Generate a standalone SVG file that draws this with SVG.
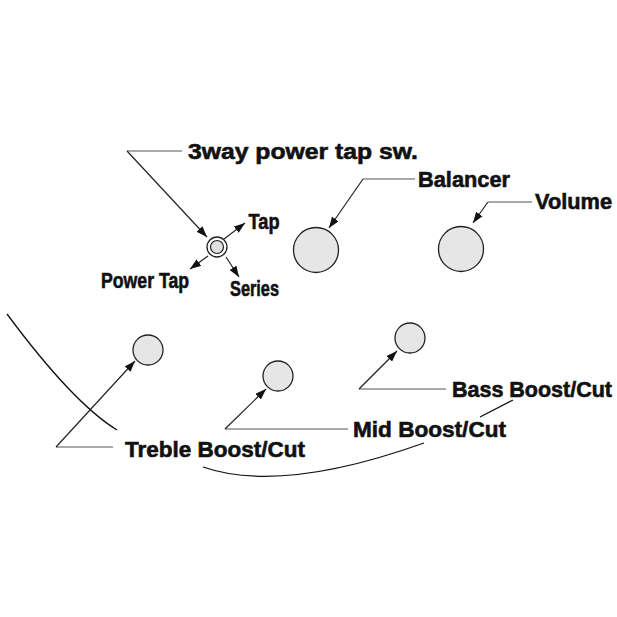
<svg xmlns="http://www.w3.org/2000/svg" width="617" height="617" viewBox="0 0 617 617">
<defs>
<marker id="ah" markerUnits="userSpaceOnUse" markerWidth="11" markerHeight="8" refX="11" refY="4" orient="auto">
<path d="M0,0 L11,4 L0,8 z" fill="#111"/>
</marker>
<style>
.knob{fill:#e6e6e6;stroke:#222;stroke-width:1.3}
.lbl{font-family:"Liberation Sans",Arial,Helvetica,sans-serif;font-weight:bold;font-size:22.5px;fill:#111;stroke:#111;stroke-width:0.6}
.lead{fill:none;stroke:#222;stroke-width:1.2}
.hz{fill:none;stroke:#555;stroke-width:1.2}
.body{fill:none;stroke:#111;stroke-width:1.3}
</style>
</defs>
<rect width="617" height="617" fill="#fff"/>

<g id="body-outline">
<path class="body" d="M7,314 Q73,403 117,430"/>
<path class="body" d="M203,467 Q281,494 424,443"/>
<path class="body" d="M480,417 L513,400"/>
</g>

<g id="connectors">
<path class="hz" d="M182,151 L127,151"/>
<path class="lead" d="M127,151 L207,237" marker-end="url(#ah)"/>
<path class="lead" d="M224,239 L245,223" marker-end="url(#ah)"/>
<path class="lead" d="M208,256 L190,269" marker-end="url(#ah)"/>
<path class="lead" d="M226,257 L239,277" marker-end="url(#ah)"/>
<path class="hz" d="M415,179 L363,179"/>
<path class="lead" d="M363,179 L329,228" marker-end="url(#ah)"/>
<path class="hz" d="M532,202 L488,202"/>
<path class="lead" d="M488,202 L473,223" marker-end="url(#ah)"/>
<path class="hz" d="M113,447 L56,447"/>
<path class="lead" d="M56,447 L135,361" marker-end="url(#ah)"/>
<path class="hz" d="M348,429 L225,429"/>
<path class="lead" d="M225,429 L266,389" marker-end="url(#ah)"/>
<path class="hz" d="M446,389 L359,389"/>
<path class="lead" d="M359,389 L397,351" marker-end="url(#ah)"/>
</g>

<g id="switch">
<circle cx="217" cy="247" r="10" fill="#fff" stroke="#222" stroke-width="1.3"/>
<circle cx="217" cy="247" r="6.5" fill="#e0e0e0" stroke="#222" stroke-width="1.2"/>
<text class="lbl" x="188" y="159" textLength="230" lengthAdjust="spacingAndGlyphs">3way power tap sw.</text>
<text class="lbl" x="248.5" y="229" textLength="31" lengthAdjust="spacingAndGlyphs">Tap</text>
<text class="lbl" x="101" y="288" textLength="88" lengthAdjust="spacingAndGlyphs">Power Tap</text>
<text class="lbl" x="230" y="296" textLength="49" lengthAdjust="spacingAndGlyphs">Series</text>
</g>

<g id="balancer">
<circle class="knob" cx="316" cy="250" r="22.5"/>
<text class="lbl" x="418" y="187" textLength="92" lengthAdjust="spacingAndGlyphs">Balancer</text>
</g>

<g id="volume">
<circle class="knob" cx="461" cy="249" r="22.5"/>
<text class="lbl" x="535" y="209" textLength="77" lengthAdjust="spacingAndGlyphs">Volume</text>
</g>

<g id="treble">
<circle class="knob" cx="148" cy="350" r="15"/>
<text class="lbl" x="125" y="457" textLength="180" lengthAdjust="spacingAndGlyphs">Treble Boost/Cut</text>
</g>

<g id="mid">
<circle class="knob" cx="278" cy="376" r="15"/>
<text class="lbl" x="353" y="437" textLength="153" lengthAdjust="spacingAndGlyphs">Mid Boost/Cut</text>
</g>

<g id="bass">
<circle class="knob" cx="410" cy="338" r="15"/>
<text class="lbl" x="452" y="397" style="font-size:21.5px" textLength="160" lengthAdjust="spacingAndGlyphs">Bass Boost/Cut</text>
</g>
</svg>
